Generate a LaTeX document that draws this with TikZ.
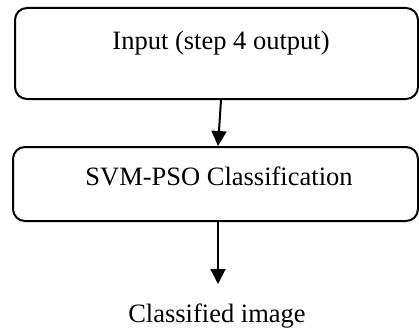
\documentclass[tikz,border=0pt]{standalone}
\usepackage{fontspec}
\setmainfont{Liberation Serif}
\usetikzlibrary{arrows.meta}
\begin{document}
\begin{tikzpicture}[x=1pt,y=-1pt,
  box/.style={draw=black,line width=2pt,rounded corners=12pt,inner sep=0pt},
  lbl/.style={anchor=base,inner sep=0pt,font=\fontsize{26.5}{30}\selectfont},
  arr/.style={line width=2pt,-{Triangle[width=15pt,length=15pt]}}]
\useasboundingbox (0,0) rectangle (419,329);
\node[box,minimum width=403pt,minimum height=91pt] (b1) at (216.5,53.5) {};
\node[lbl] (t1) at (221,49) {Input (step 4 output)};
\node[box,minimum width=405pt,minimum height=74pt] (b2) at (215.5,184) {};
\node[lbl] (t2) at (219,185) {SVM-PSO Classification};
\node[lbl] (t3) at (217,322) {Classified image};
\coordinate (e2) at (218,284);
\draw[arr] (b1.south -| 221,0) -- (b2.north -| 218,0);
\draw[arr] (b2.south -| 218,0) -- (e2);
\end{tikzpicture}
\end{document}
